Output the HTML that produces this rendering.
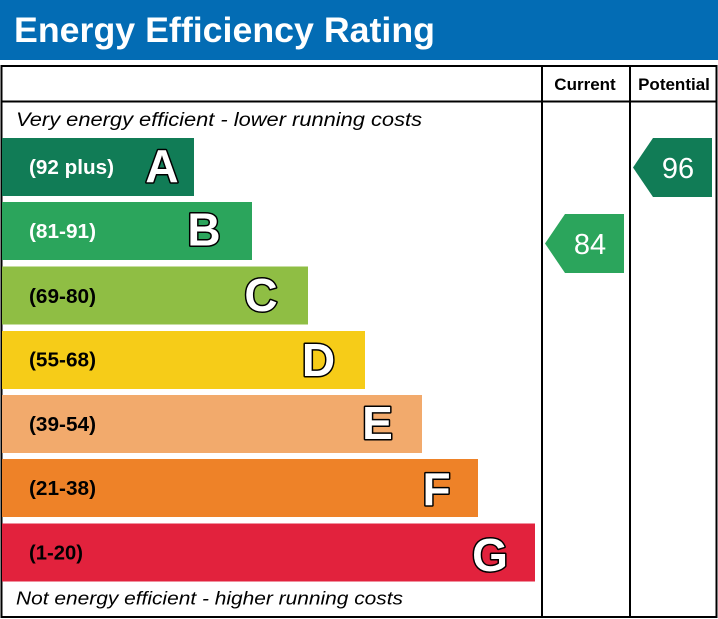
<!DOCTYPE html>
<html><head><meta charset="utf-8"><style>
html,body{margin:0;padding:0;background:#fff;}
svg{display:block;}
</style></head><body>
<svg width="718" height="619" viewBox="0 0 718 619" xmlns="http://www.w3.org/2000/svg">
<rect x="0" y="0" width="718" height="619" fill="#fff"/>
<rect x="0" y="0" width="718" height="60" fill="#036cb4"/>
<text x="14" y="42" font-family="Liberation Sans, Arial, sans-serif" font-weight="bold" font-size="35" fill="#fff" textLength="421" lengthAdjust="spacingAndGlyphs">Energy Efficiency Rating</text>

<!-- table frame -->
<rect x="1.5" y="66" width="715" height="551" fill="none" stroke="#000" stroke-width="2"/>
<line x1="1" y1="101.5" x2="717" y2="101.5" stroke="#000" stroke-width="2"/>
<line x1="542" y1="66" x2="542" y2="617" stroke="#000" stroke-width="2"/>
<line x1="630" y1="66" x2="630" y2="617" stroke="#000" stroke-width="2"/>

<g font-family="Liberation Sans, Arial, sans-serif" font-weight="bold" font-size="17" fill="#000" text-anchor="middle">
<text x="585" y="90">Current</text>
<text x="674" y="90">Potential</text>
</g>

<g font-family="Liberation Sans, Arial, sans-serif" font-style="italic" fill="#000">
<text x="16" y="126" font-size="19.5" textLength="406" lengthAdjust="spacingAndGlyphs">Very energy efficient - lower running costs</text>
<text x="16" y="604.5" font-size="18" textLength="387" lengthAdjust="spacingAndGlyphs">Not energy efficient - higher running costs</text>
</g>

<!-- bars -->
<rect x="2" y="138" width="192" height="58" fill="#117c56"/>
<rect x="2" y="202" width="250" height="58" fill="#2ba55c"/>
<rect x="2" y="266.5" width="306" height="58" fill="#8fbe44"/>
<rect x="2" y="331" width="363" height="58" fill="#f6cc18"/>
<rect x="2" y="395" width="420" height="58" fill="#f2aa6c"/>
<rect x="2" y="459" width="476" height="58" fill="#ee8228"/>
<rect x="2" y="523.5" width="533" height="58" fill="#e2223d"/>

<g font-family="Liberation Sans, Arial, sans-serif" font-weight="bold" font-size="20.5">
<text x="29" y="174" fill="#fff" textLength="85" lengthAdjust="spacingAndGlyphs">(92 plus)</text>
<text x="29" y="238" fill="#fff" textLength="67" lengthAdjust="spacingAndGlyphs">(81-91)</text>
<text x="29" y="303" fill="#000" textLength="67" lengthAdjust="spacingAndGlyphs">(69-80)</text>
<text x="29" y="366.5" fill="#000" textLength="67" lengthAdjust="spacingAndGlyphs">(55-68)</text>
<text x="29" y="431" fill="#000" textLength="67" lengthAdjust="spacingAndGlyphs">(39-54)</text>
<text x="29" y="495" fill="#000" textLength="67" lengthAdjust="spacingAndGlyphs">(21-38)</text>
<text x="29" y="559.5" fill="#000" textLength="54" lengthAdjust="spacingAndGlyphs">(1-20)</text>
</g>

<g font-family="Liberation Sans, Arial, sans-serif" font-weight="bold" font-size="46" fill="#fff" stroke="#000" stroke-width="3" stroke-linejoin="round" paint-order="stroke" text-anchor="middle">
<text x="162" y="182">A</text>
<text x="204" y="245.5">B</text>
<text x="261" y="311">C</text>
<text x="318.5" y="376">D</text>
<text x="377.5" y="439">E</text>
<text x="436.5" y="505">F</text>
<text x="490" y="571">G</text>
</g>

<!-- arrows -->
<polygon points="545,243.5 565,214 624,214 624,273 565,273" fill="#2ba55c"/>
<polygon points="633,167.5 653,138 712,138 712,197 653,197" fill="#117c56"/>
<g font-family="Liberation Sans, Arial, sans-serif" font-size="29" fill="#fff" text-anchor="middle">
<text x="590" y="254">84</text>
<text x="678" y="178">96</text>
</g>
</svg>
</body></html>
